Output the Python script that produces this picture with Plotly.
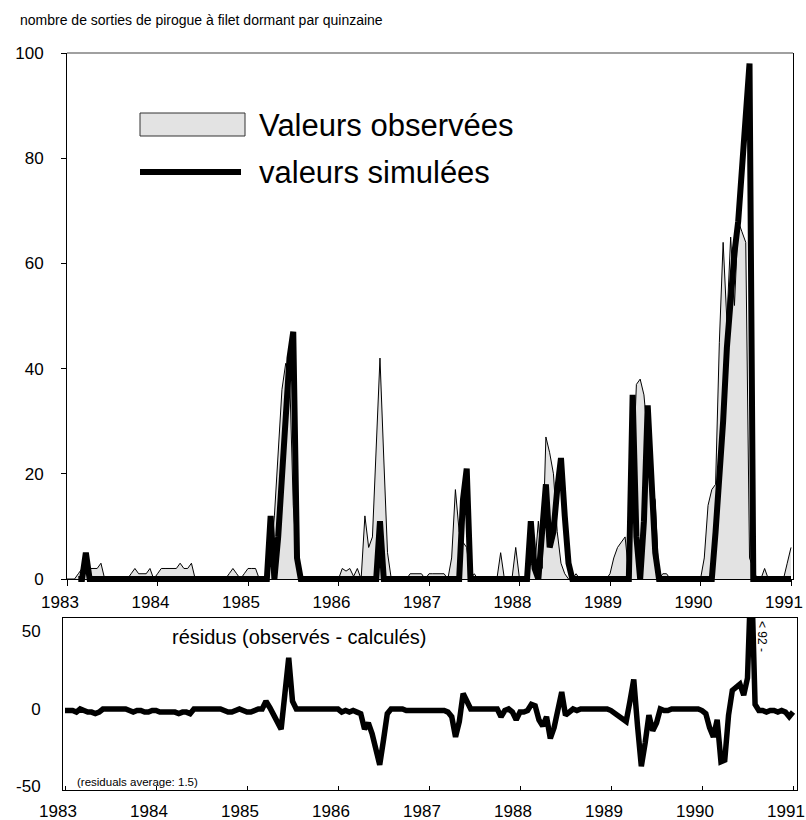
import plotly.graph_objects as go

# ---------------- data (fortnightly values, 24 per year) ----------------
years = [1983, 1984, 1985, 1986, 1987, 1988, 1989, 1990, 1991]
year_labels = ["1983", "1984", "1985", "1986", "1987", "1988", "1989", "1990", "1991"]
res_ticks = [-50, 0, 50]
res_tick_labels = ["-50", "0", "50"]

obs_1983 = [0, 0, 0, 1, 2, 2, 2, 2, 2, 3, 0, 0, 0, 0, 0, 0, 0, 1, 2, 1, 1, 1, 2, 0]
obs_1984 = [1, 2, 2, 2, 2, 2, 3, 2, 2, 3, 0, 0, 0, 0, 0, 0, 0, 0, 0, 1, 2, 1, 0, 1]
obs_1985 = [2, 2, 2, 0, 0, 1, 4, 12, 24, 36, 41, 40, 14, 3, 0, 0, 0, 0, 0, 0, 0, 0, 0, 0]
obs_1986 = [0, 2, 1.5, 2, 0.5, 2, 0, 12, 6, 8, 25, 42, 23, 5, 0, 0, 0, 0, 0, 1, 1, 1, 1, 0]
obs_1987 = [1, 1, 1, 1, 1, 0, 4, 17, 9, 7, 6, 0, 1, 0, 0, 0, 0, 0, 0, 5, 0, 0, 0, 6]
obs_1988 = [0, 0, 1, 3, 2, 11, 2, 27, 24, 20, 9, 3, 1, 0, 0, 1, 0, 0, 0, 0, 0, 0, 0, 0]
obs_1989 = [1, 4, 6, 7, 8, 1, 18, 37, 38, 35, 27, 17, 15, 0, 1, 1, 0, 0, 0, 0, 0, 0, 0, 0]
obs_1990 = [0, 4, 14, 17, 18, 45, 64, 49, 65, 52, 68, 66, 64, 4, 2, 0, 0, 2, 0, 0, 0, 0, 0, 3]
obs_1991 = [6]

sim_1983 = [None, None, None, 0, 0, 5, 0, 0, 0, 0, 0, 0, 0, 0, 0, 0, 0, 0, 0, 0, 0, 0, 0, 0]
sim_1984 = [0] * 24
sim_1985 = [0, 0, 0, 0, 0, 0, 12, 0, 8, 19, 30, 42, 47, 4, 0, 0, 0, 0, 0, 0, 0, 0, 0, 0]
sim_1986 = [0, 0, 0, 0, 0, 0, 0, 0, 0, 0, 0, 11, 0, 0, 0, 0, 0, 0, 0, 0, 0, 0, 0, 0]
sim_1987 = [0, 0, 0, 0, 0, 0, 0, 0, 0, 15, 21, 0, 0, 0, 0, 0, 0, 0, 0, 0, 0, 0, 0, 0]
sim_1988 = [0, 0, 0, 11, 2, 0, 8, 18, 6, 9, 17, 23, 12, 3, 0, 0, 0, 0, 0, 0, 0, 0, 0, 0]
sim_1989 = [0, 0, 0, 0, 0, 0, 35, 8, 0, 11, 33, 17, 5, 0, 0, 0, 0, 0, 0, 0, 0, 0, 0, 0]
sim_1990 = [0, 0, 0, 0, 9, 18, 30, 44, 54, 62, 68, 77, 88, 98, 0, 0, 0, 0, 0, 0, 0, 0, 0, 0]
sim_1991 = [0]

res_1983 = [-1, -1, -1, -2, 0, -1, -2, -2, -3, -2, 0, 0, 0, 0, 0, 0, 0, -1, -2, -1, -1, -2, -2, -1]
res_1984 = [-1, -2, -2, -2, -2, -2, -3, -2, -2, -3, 0, 0, 0, 0, 0, 0, 0, 0, -1, -2, -2, -1, 0, -1]
res_1985 = [-2, -2, -1, 0, 0, 5, 1, -4, -10, -13, 10, 33, 5, 0, 0, 0, 0, 0, 0, 0, 0, 0, 0, 0]
res_1986 = [0, -2, -1, -2, -1, -2, -3, -13, -9, -16, -26, -36, -20, -3, 0, 0, 0, 0, -1, -1, -1, -1, -1, -1]
res_1987 = [-1, -1, -1, -1, -1, -2, -5, -18, -8, 10, 5, 0, 0, 0, 0, 0, 0, 0, 0, -5, -1, 0, -2, -7]
res_1988 = [-2, -2, -1, 3, 2, -7, -11, -5, -19, -12, 1, 11, -4, -2, 0, -1, 0, 0, 0, 0, 0, 0, 0, 0]
res_1989 = [-1, -3, -5, -7, -8, 5, 19, -11, -37, -22, -4, -14, -9, 0, -1, -1, 0, 0, 0, 0, 0, 0, 0, 0]
res_1990 = [-1, -3, -12, -18, -7, -34, -33, -4, 12, 14, 16, 9, 20, 92, 3, -1, -1, -2, -1, -1, -2, -1, -2, -5]
res_1991 = [-2]

obs = obs_1983 + obs_1984 + obs_1985 + obs_1986 + obs_1987 + obs_1988 + obs_1989 + obs_1990 + obs_1991
sim = sim_1983 + sim_1984 + sim_1985 + sim_1986 + sim_1987 + sim_1988 + sim_1989 + sim_1990 + sim_1991
res = res_1983 + res_1984 + res_1985 + res_1986 + res_1987 + res_1988 + res_1989 + res_1990 + res_1991
t = [1983 + k / 24 for k in range(len(obs))]

title_text = "nombre de sorties de pirogue à filet dormant par quinzaine"
legend_obs = "Valeurs observées"
legend_sim = "valeurs simulées"
res_title = "résidus (observés - calculés)"
res_note = "(residuals average: 1.5)"
res_clip_note = "< 92 -"

# ---------------- layout helpers ----------------
W, H = 806, 820
def px(x):
    return x / W
def py(y):
    return 1 - y / H

FONT = "Liberation Sans, Arial, sans-serif"

fig = go.Figure()

# empty trace so that the displayed top axes own a subplot
fig.add_trace(go.Scatter(x=[], y=[], xaxis="x", yaxis="y", showlegend=False, hoverinfo="skip"))

fig.add_trace(go.Scatter(
    x=t, y=obs, mode="lines", xaxis="x", yaxis="y3",
    line=dict(color="black", width=1), fill="tozeroy", fillcolor="#e3e3e3",
    showlegend=False))
fig.add_trace(go.Scatter(
    x=t, y=sim, mode="lines", xaxis="x", yaxis="y3",
    line=dict(color="black", width=6), showlegend=False, connectgaps=False))

fig.add_trace(go.Scatter(
    x=t, y=res, mode="lines", xaxis="x2", yaxis="y2",
    line=dict(color="black", width=5.5), showlegend=False))

tickfont = dict(family=FONT, size=17, color="black")

fig.update_layout(
    width=W, height=H,
    margin=dict(l=0, r=0, t=0, b=0, pad=0, autoexpand=False),
    paper_bgcolor="white", plot_bgcolor="rgba(0,0,0,0)",
    showlegend=False,
    xaxis=dict(domain=[px(67), px(793)], range=[1983, 1983 + 726 / 90.5], anchor="y",
               automargin=False,
               showline=True, linecolor="black", linewidth=1, ticks="outside", ticklen=6,
               tickcolor="black", tickvals=years, ticktext=year_labels, showgrid=False,
               zeroline=False, tickfont=tickfont, ticklabelshift=-7, ticklabelstandoff=2),
    yaxis=dict(domain=[py(579), py(53)], range=[0, 100], anchor="x", automargin=False,
               showline=True, mirror=True, linecolor="black", linewidth=1,
               ticks="outside", ticklen=5, tickcolor="black",
               tickvals=[0, 20, 40, 60, 80, 100], showgrid=False, zeroline=False,
               tickfont=tickfont, ticklabelstandoff=14),
    yaxis3=dict(domain=[py(596), py(53)], range=[-17 / 5.26, 100], anchor="x",
                automargin=False, visible=False, showgrid=False, zeroline=False),
    xaxis2=dict(domain=[px(63), px(797)], range=[1983 - 2 / 91, 1983 + 732 / 91], anchor="y2",
                automargin=False,
                showline=True, mirror=True, linecolor="black", linewidth=1,
                ticks="inside", ticklen=4, tickcolor="black",
                tickvals=years, ticktext=year_labels, showgrid=False, zeroline=False,
                tickfont=tickfont, ticklabelshift=-7, ticklabelstandoff=6),
    yaxis2=dict(domain=[py(790), py(618)], range=[(709 - 790) / 1.55, (709 - 618) / 1.55],
                anchor="x2", automargin=False, showline=True, mirror=True,
                linecolor="black", linewidth=1,
                ticks="", tickvals=res_ticks, ticktext=res_tick_labels,
                showgrid=False, zeroline=False,
                tickfont=tickfont, ticklabelstandoff=18),
)

shapes = [
    # grey top frame of upper panel
    dict(type="line", xref="paper", yref="paper", x0=px(67), x1=px(793), y0=py(53), y1=py(53),
         line=dict(color="#808080", width=1.5)),
    # legend box
    dict(type="rect", xref="paper", yref="paper", x0=px(140), x1=px(245), y0=py(136), y1=py(113),
         fillcolor="#e3e3e3", line=dict(color="#333333", width=1)),
    # legend line
    dict(type="line", xref="paper", yref="paper", x0=px(140), x1=px(241), y0=py(172), y1=py(172),
         line=dict(color="black", width=6)),
]
fig.update_layout(shapes=shapes)

annotations = [
    dict(text=title_text, x=px(18), y=py(20), xref="paper", yref="paper",
         xanchor="left", yanchor="middle", showarrow=False,
         font=dict(family=FONT, size=14, color="black")),
    dict(text=legend_obs, x=px(257), y=py(125), xref="paper", yref="paper",
         xanchor="left", yanchor="middle", showarrow=False,
         font=dict(family=FONT, size=31, color="black")),
    dict(text=legend_sim, x=px(257), y=py(173), xref="paper", yref="paper",
         xanchor="left", yanchor="middle", showarrow=False,
         font=dict(family=FONT, size=31, color="black")),
    dict(text=res_title, x=px(170), y=py(637), xref="paper", yref="paper",
         xanchor="left", yanchor="middle", showarrow=False,
         font=dict(family=FONT, size=20, color="black")),
    dict(text=res_note, x=px(75), y=py(782), xref="paper", yref="paper",
         xanchor="left", yanchor="middle", showarrow=False,
         font=dict(family=FONT, size=11.5, color="black")),
    dict(text=res_clip_note, x=px(762), y=py(636), xref="paper", yref="paper",
         xanchor="center", yanchor="middle", showarrow=False, textangle=90,
         font=dict(family=FONT, size=12, color="black")),
]
fig.update_layout(annotations=annotations)

fig.write_html("out.html")
